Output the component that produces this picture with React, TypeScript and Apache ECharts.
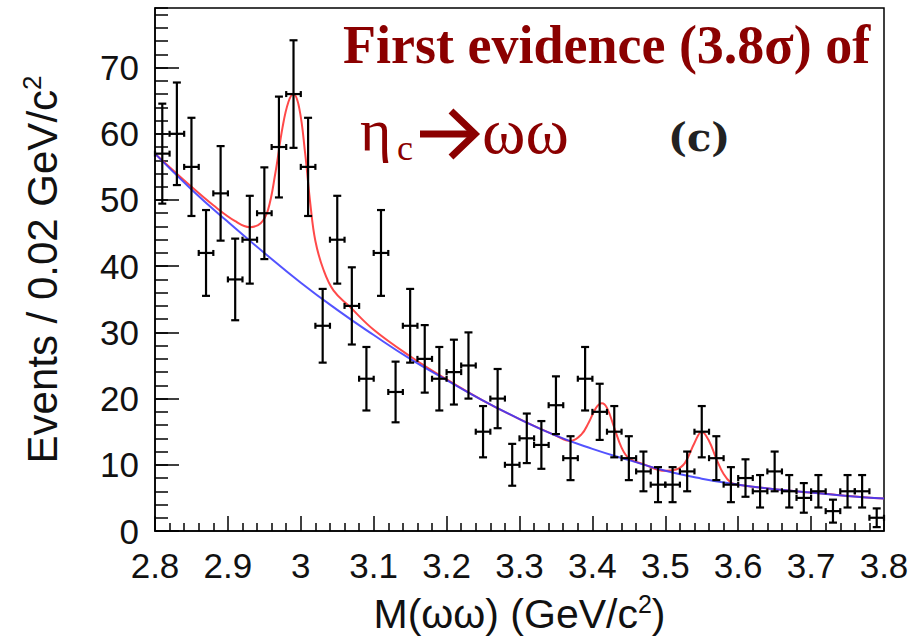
import React, { useEffect, useRef } from "react";
import * as echarts from "echarts";

// Bin centres (GeV/c^2) and event counts per 0.02 GeV/c^2 bin
const binCenters = [
  2.81, 2.83, 2.85, 2.87, 2.89, 2.91, 2.93, 2.95, 2.97, 2.99,
  3.01, 3.03, 3.05, 3.07, 3.09, 3.11, 3.13, 3.15, 3.17, 3.19,
  3.21, 3.23, 3.25, 3.27, 3.29, 3.31, 3.33, 3.35, 3.37, 3.39,
  3.41, 3.43, 3.45, 3.47, 3.49, 3.51, 3.53, 3.55, 3.57, 3.59,
  3.61, 3.63, 3.65, 3.67, 3.69, 3.71, 3.73, 3.75, 3.77, 3.79,
];
const counts = [
  57, 60, 55, 42, 51, 38, 44, 48, 58, 66,
  55, 31, 44, 34, 23, 42, 21, 31, 26, 23,
  24, 25, 15, 20, 10, 14, 13, 19, 11, 23,
  18, 15, 11, 9, 7, 7, 9, 15, 11, 7,
  8, 6, 9, 6, 5, 6, 3, 6, 6, 2,
];
const binHalfWidth = 0.01;

// Background fit (blue)
const bkgX = [2.8, 2.85, 2.9, 2.95, 3.0, 3.05, 3.1, 3.15, 3.2, 3.25, 3.3, 3.35, 3.4, 3.45, 3.5, 3.55, 3.6, 3.65, 3.7, 3.75, 3.8];
const bkgY = [57.0, 51.6, 46.7, 42.0, 37.5, 33.4, 29.6, 26.0, 22.8, 19.7, 16.9, 14.4, 12.4, 10.7, 9.1, 7.9, 7.0, 6.3, 5.8, 5.3, 4.9];

// Total fit (red)
const totX = [
  2.8, 2.85, 2.88, 2.91, 2.93, 2.945, 2.955, 2.965, 2.975, 2.983, 2.99, 2.998, 3.006, 3.013, 3.02, 3.031, 3.045, 3.067,
  3.1, 3.15, 3.2, 3.25, 3.3, 3.35, 3.37, 3.385, 3.395, 3.405, 3.413, 3.42, 3.43, 3.44, 3.45, 3.47,
  3.5, 3.515, 3.527, 3.54, 3.55, 3.56, 3.57, 3.58, 3.59, 3.6, 3.65, 3.7, 3.75, 3.8,
];
const totY = [
  57.0, 52.0, 49.2, 46.8, 45.9, 46.5, 48.5, 54.0, 61.0, 64.8, 66.0, 63.8, 57.0, 49.5, 43.8, 39.5, 36.3, 33.9,
  30.4, 26.4, 22.9, 19.7, 16.9, 14.4, 13.6, 14.6, 16.4, 18.6, 19.3, 18.6, 15.6, 12.6, 11.0, 10.1,
  9.1, 9.3, 10.3, 13.3, 15.0, 13.6, 10.9, 8.6, 7.3, 7.0, 6.3, 5.8, 5.3, 4.9,
];

const SANS = '"Liberation Sans", Arial, Helvetica, sans-serif';
const SERIF = '"Liberation Serif", "Times New Roman", serif';
const DARKRED = "#8b0000";

export default function App() {
  const ref = useRef<HTMLDivElement>(null);

  useEffect(() => {
    if (!ref.current) return;
    const chart = echarts.init(ref.current, undefined, { renderer: "svg" });

    const pointData = binCenters.map((x, i) => [x, counts[i], Math.sqrt(counts[i])]);

    const option: any = {
      animation: false,
      backgroundColor: "#fff",
      grid: {
        left: 155,
        right: 28,
        top: 8,
        bottom: 112,
        show: true,
        borderColor: "#000",
        borderWidth: 1.5,
        backgroundColor: "transparent",
      },
      xAxis: {
        type: "value",
        min: 2.8,
        max: 3.8,
        interval: 0.1,
        axisLine: { onZero: false, lineStyle: { color: "#000", width: 1.5 } },
        axisTick: { inside: true, length: 15, lineStyle: { color: "#000", width: 1.5 } },
        minorTick: { show: true, splitNumber: 5, length: 8, lineStyle: { color: "#000", width: 1.5 } },
        splitLine: { show: false },
        minorSplitLine: { show: false },
        axisLabel: {
          color: "#111",
          fontSize: 35,
          fontFamily: SANS,
          margin: 17,
          formatter: (v: number) => String(Math.round(v * 10) / 10),
        },
        name: "M(ωω) (GeV/c{sup|2})",
        nameLocation: "middle",
        nameGap: 62,
        nameTextStyle: {
          color: "#111",
          fontSize: 41,
          fontFamily: SANS,
          rich: {
            sup: { fontSize: 25, fontFamily: SANS, color: "#111", lineHeight: 25, padding: [0, 0, 20, 0] },
          },
        },
      },
      yAxis: [
        {
          type: "value",
          min: 0,
          max: 79,
          interval: 10,
          position: "left",
          axisLine: { show: true, onZero: false, lineStyle: { color: "#000", width: 1.5 } },
          axisTick: { show: true, inside: true, length: 24, lineStyle: { color: "#000", width: 1.5 } },
          splitLine: { show: false },
          axisLabel: {
            color: "#111",
            fontSize: 35,
            fontFamily: SANS,
            margin: 16,
            showMaxLabel: false,
          },
          name: "Events / 0.02 GeV/c{sup|2}",
          nameLocation: "middle",
          nameRotate: 90,
          nameGap: 92,
          nameTextStyle: {
            color: "#111",
            fontSize: 42,
            fontFamily: SANS,
            rich: {
              sup: { fontSize: 26, fontFamily: SANS, color: "#111", lineHeight: 26, padding: [0, 0, 20, 0] },
            },
          },
        },
        {
          type: "value",
          min: 0,
          max: 79,
          interval: 2,
          position: "left",
          offset: 0,
          axisLine: { show: false },
          axisTick: { show: true, inside: true, length: 13, lineStyle: { color: "#000", width: 1.5 } },
          axisLabel: { show: false },
          splitLine: { show: false },
        },
      ],
      series: [
        {
          type: "line",
          name: "total",
          data: totX.map((x, i) => [x, totY[i]]),
          showSymbol: false,
          smooth: 0.4,
          lineStyle: { color: "#ff3535", width: 2, opacity: 0.9 },
          z: 2,
        },
        {
          type: "line",
          name: "background",
          data: bkgX.map((x, i) => [x, bkgY[i]]),
          showSymbol: false,
          smooth: 0.5,
          lineStyle: { color: "#3535ff", width: 2, opacity: 0.85 },
          z: 3,
        },
        {
          type: "custom",
          name: "data",
          data: pointData,
          encode: { x: 0, y: 1 },
          z: 5,
          renderItem: (params: any, api: any) => {
            const x = api.value(0);
            const y = api.value(1);
            const e = api.value(2);
            const c = api.coord([x, y]);
            const top = api.coord([x, y + e]);
            const bot = api.coord([x, y - e]);
            const l = api.coord([x - binHalfWidth, y]);
            const r = api.coord([x + binHalfWidth, y]);
            const style = { stroke: "#000", lineWidth: 2.2 };
            const cw = 4;
            const ch = 3;
            return {
              type: "group",
              children: [
                { type: "line", shape: { x1: c[0], y1: top[1], x2: c[0], y2: bot[1] }, style },
                { type: "line", shape: { x1: c[0] - cw, y1: top[1], x2: c[0] + cw, y2: top[1] }, style },
                { type: "line", shape: { x1: c[0] - cw, y1: bot[1], x2: c[0] + cw, y2: bot[1] }, style },
                { type: "line", shape: { x1: l[0], y1: c[1], x2: r[0], y2: c[1] }, style },
                { type: "line", shape: { x1: l[0], y1: c[1] - ch, x2: l[0], y2: c[1] + ch }, style },
                { type: "line", shape: { x1: r[0], y1: c[1] - ch, x2: r[0], y2: c[1] + ch }, style },
              ],
            };
          },
        },
      ],
      graphic: [
        {
          type: "text",
          x: 343,
          y: 45,
          z: 10,
          style: {
            text: "First evidence (3.8σ) of",
            fontSize: 54,
            fontWeight: "bold",
            fontFamily: SERIF,
            fill: DARKRED,
            verticalAlign: "middle",
            align: "left",
          },
        },
        {
          type: "text",
          x: 360,
          y: 130,
          z: 10,
          style: { text: "η", fontSize: 60, fontFamily: SERIF, fill: DARKRED, verticalAlign: "middle", align: "left" },
        },
        {
          type: "text",
          x: 397,
          y: 148,
          z: 10,
          style: { text: "c", fontSize: 36, fontFamily: SERIF, fill: DARKRED, verticalAlign: "middle", align: "left" },
        },
        {
          type: "polyline",
          z: 10,
          shape: { points: [[420, 134], [472, 134]] },
          style: { stroke: DARKRED, lineWidth: 7, fill: "none" },
        },
        {
          type: "polyline",
          z: 10,
          shape: { points: [[451, 111], [475, 134], [451, 157]] },
          style: { stroke: DARKRED, lineWidth: 7, fill: "none", lineJoin: "miter" },
        },
        {
          type: "text",
          x: 482,
          y: 130,
          z: 10,
          style: { text: "ωω", fontSize: 66, fontFamily: SERIF, fill: DARKRED, verticalAlign: "middle", align: "left" },
        },
        {
          type: "text",
          x: 668,
          y: 136,
          z: 10,
          style: { text: "(c)", fontSize: 40, fontWeight: "bold", fontFamily: '"DejaVu Serif", serif', fill: "#222", verticalAlign: "middle", align: "left" },
        },
      ],
    };

    chart.setOption(option);
    return () => chart.dispose();
  }, []);

  return (
    <div
      ref={ref}
      style={{ position: "absolute", left: 0, top: 0, width: 912, height: 643, background: "#fff" }}
    />
  );
}
